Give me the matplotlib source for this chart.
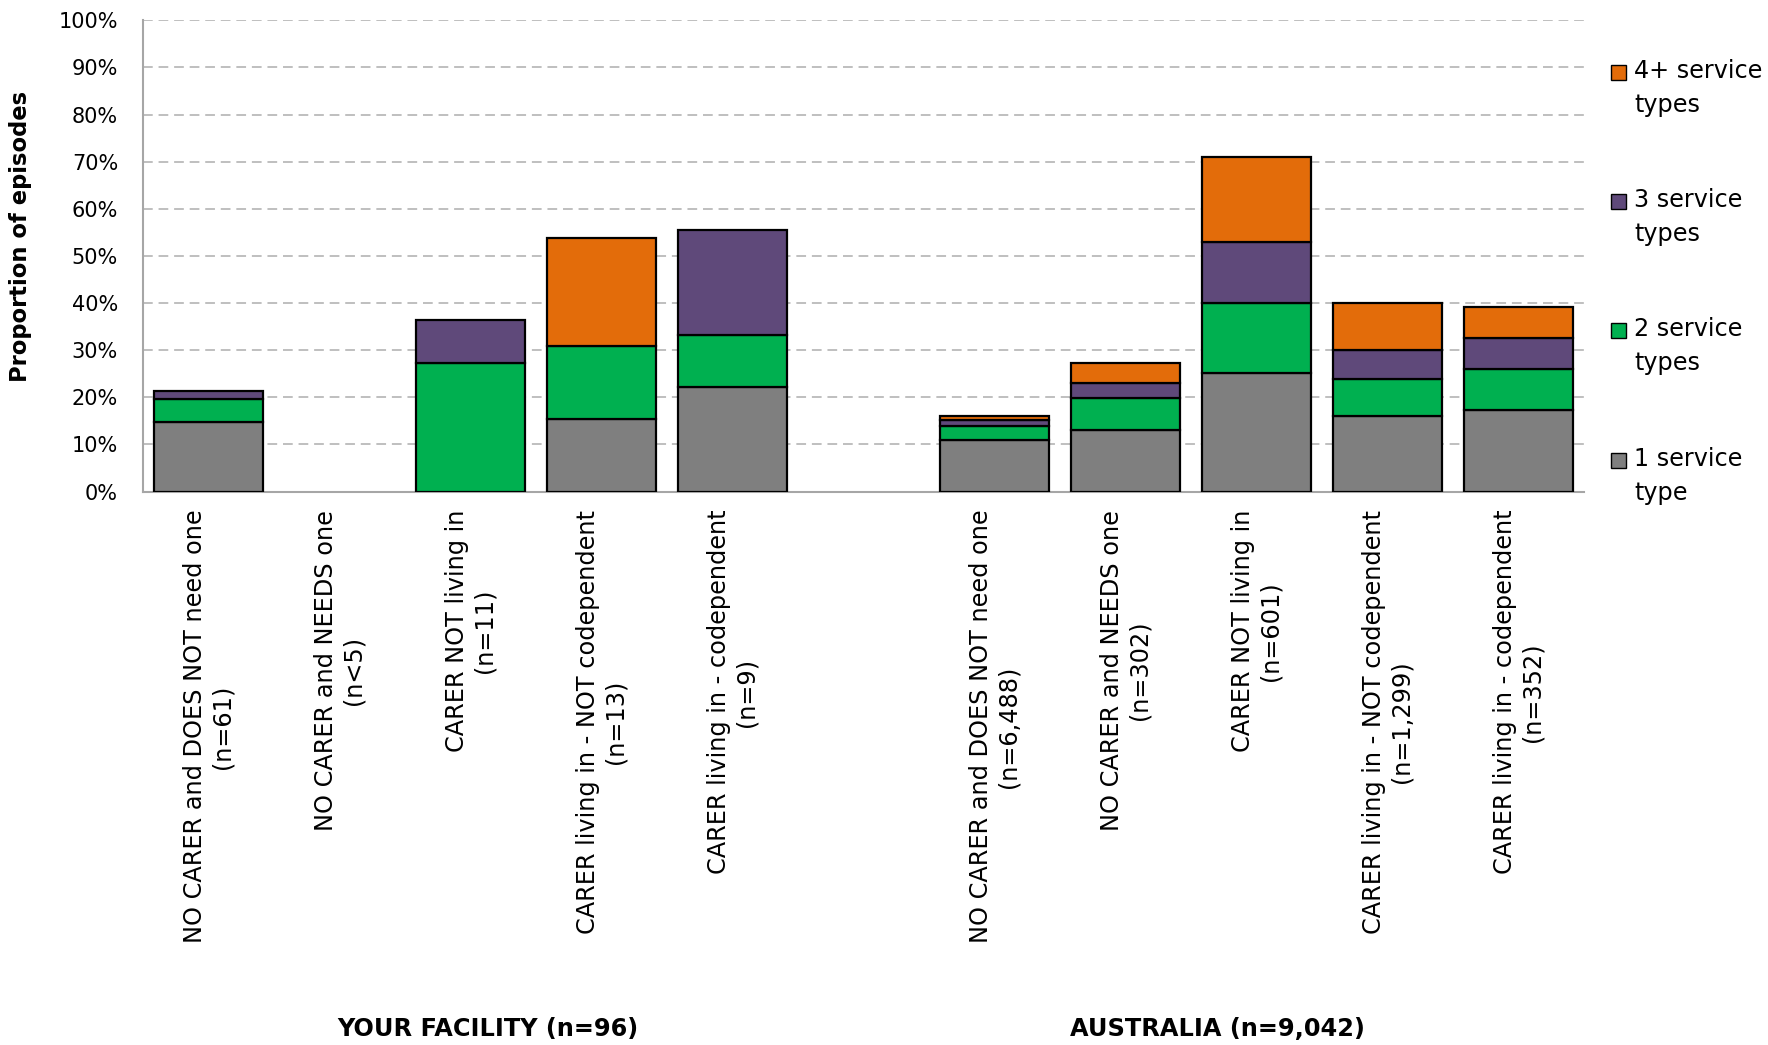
import numpy as np
import matplotlib.pyplot as plt
from matplotlib.patches import Rectangle

# categories (facility group, then australia group)
facility_labels = [
    "NO CARER and DOES NOT need one\n(n=61)",
    "NO CARER and NEEDS one\n(n<5)",
    "CARER NOT living in\n(n=11)",
    "CARER living in - NOT codependent\n(n=13)",
    "CARER living in - codependent\n(n=9)",
]
australia_labels = [
    "NO CARER and DOES NOT need one\n(n=6,488)",
    "NO CARER and NEEDS one\n(n=302)",
    "CARER NOT living in\n(n=601)",
    "CARER living in - NOT codependent\n(n=1,299)",
    "CARER living in - codependent\n(n=352)",
]
groups = ["YOUR FACILITY (n=96)", "AUSTRALIA (n=9,042)"]

# percentages of episodes by number of service types
facility_1 = [14.8, 0, 0, 15.4, 22.2]
facility_2 = [4.9, 0, 27.3, 15.4, 11.1]
facility_3 = [1.6, 0, 9.1, 0, 22.2]
facility_4 = [0, 0, 0, 23.1, 0]

australia_1 = [11.0, 13.1, 25.1, 16.1, 17.3]
australia_2 = [3.0, 6.7, 15.0, 7.8, 8.7]
australia_3 = [1.2, 3.3, 12.8, 6.2, 6.6]
australia_4 = [0.9, 4.2, 18.2, 10.0, 6.6]

series_names = ["1 service\ntype", "2 service\ntypes", "3 service\ntypes", "4+ service\ntypes"]
colors = ["#7F7F7F", "#00B050", "#5F497A", "#E36C0A"]

plt.rcParams['font.family'] = ['DejaVu Sans']

fig = plt.figure(figsize=(17.68, 10.45), dpi=100)
W, H = 1768, 1045
ax = fig.add_axes([143 / W, 1 - 491.6 / H, (1584 - 143) / W, (491.6 - 20.3) / H])

#slot 5 is left empty between the two groups
x = np.array([0, 1, 2, 3, 4, 6, 7, 8, 9, 10])
data = [
    np.array(facility_1 + australia_1),
    np.array(facility_2 + australia_2),
    np.array(facility_3 + australia_3),
    np.array(facility_4 + australia_4),
]

bottom = np.zeros(len(x))
for vals, col in zip(data, colors):
    mask = vals > 0
    ax.bar(x[mask], vals[mask], bottom=bottom[mask], width=0.83, color=col,
           edgecolor="black", linewidth=1.6, zorder=3)
    bottom += vals

ax.set_xlim(-0.5, 10.5)
ax.set_ylim(0, 100)
ax.set_yticks(np.arange(0, 101, 10))
ax.set_yticklabels([f"{v}%" for v in range(0, 101, 10)], fontsize=15)
ax.yaxis.grid(True, color="#BFBFBF", linestyle=(0, (5, 3)), linewidth=1.4, zorder=0)
ax.tick_params(axis="y", length=0, pad=18)
ax.tick_params(axis="x", length=0, pad=13)

ax.set_xticks(x)
ax.set_xticklabels(facility_labels + australia_labels, rotation=90, fontsize=17.3,
                   ha="center", va="top", multialignment="center", linespacing=1.2)

for s in ["top", "right"]:
    ax.spines[s].set_visible(False)
ax.spines["left"].set_color("#A6A6A6")
ax.spines["bottom"].set_color("#A6A6A6")
ax.spines["left"].set_linewidth(1.5)
ax.spines["bottom"].set_linewidth(1.5)

ax.set_ylabel("Proportion of episodes", fontsize=16.3, fontweight="bold")
ax.yaxis.set_label_coords(-0.077, 0.542)

# group labels under the categories
ax.text(2.13, -1.14, groups[0], transform=ax.get_xaxis_transform(), ha="center", va="center",
        fontsize=17.3, fontweight="bold")
ax.text(7.70, -1.14, groups[1], transform=ax.get_xaxis_transform(), ha="center", va="center",
        fontsize=17.3, fontweight="bold")

# legend on the right, marker beside first line
leg_y = [72, 201, 330, 460]
for i, yy in enumerate(leg_y):
    k = 3 - i
    fig.patches.append(Rectangle((1611 / W, 1 - (yy + 8) / H), 15 / W, 15 / H,
                                 transform=fig.transFigure, facecolor=colors[k],
                                 edgecolor="black", linewidth=1.0))
    fig.text(1634 / W, 1 - (yy - 13) / H, series_names[k], ha="left", va="top",
             fontsize=17.2, linespacing=1.55)

fig.savefig("out.png", dpi=100)
